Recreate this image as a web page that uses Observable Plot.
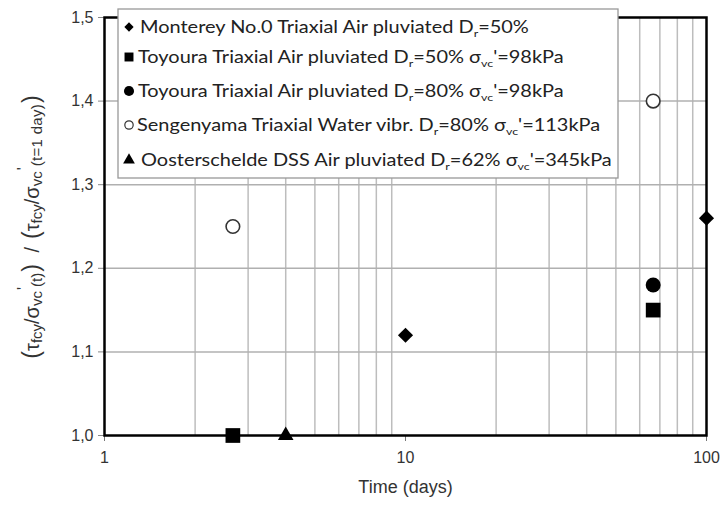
<!DOCTYPE html>
<html>
<head>
<meta charset="utf-8">
<script src="https://cdn.jsdelivr.net/npm/d3@7"></script>
<script src="https://cdn.jsdelivr.net/npm/@observablehq/plot@0.6"></script>
<style>
  html, body { margin: 0; padding: 0; background: white; }
  #chart { position: relative; width: 721px; height: 507px; }
</style>
</head>
<body>
<div id="chart"></div>
<script>
// ---- data ----
const seriesNames = [
  "Monterey No.0 Triaxial Air pluviated D_{r}=50%",
  "Toyoura Triaxial Air pluviated D_{r}=50% σ_{vc}'=98kPa",
  "Toyoura Triaxial Air pluviated D_{r}=80% σ_{vc}'=98kPa",
  "Sengenyama Triaxial Water vibr. D_{r}=80% σ_{vc}'=113kPa",
  "Oosterschelde DSS Air pluviated D_{r}=62% σ_{vc}'=345kPa"
];
const montereyT = [10, 100];
const montereyR = [1.12, 1.26];
const toyoura50T = [2.67, 66.5];
const toyoura50R = [1.00, 1.15];
const toyoura80T = [66.5];
const toyoura80R = [1.18];
const sengenyamaT = [2.67, 66.5];
const sengenyamaR = [1.25, 1.40];
const oosterT = [4];
const oosterR = [1.00];

const xTicks = [1, 10, 100];
const xGrid = [2,3,4,5,6,7,8,9,20,30,40,50,60,70,80,90];
const yTicks = [1.0, 1.1, 1.2, 1.3, 1.4, 1.5];
const yGrid = [1.1, 1.2, 1.3, 1.4];
const xLabel = "Time (days)";

const pts = (T, R) => T.map((t, i) => ({t, r: R[i]}));

const chart = Plot.plot({
  width: 721,
  height: 507,
  marginLeft: 104,
  marginRight: 15,
  marginTop: 17,
  marginBottom: 72,
  style: {fontFamily: "'Liberation Sans', Arial, sans-serif", fontSize: "16px", background: "white", color: "#333"},
  x: {type: "log", domain: [1, 100]},
  y: {domain: [1.0, 1.5]},
  marks: [
    Plot.ruleX(xGrid, {stroke: "#bdbdbd", strokeWidth: 1.5}),
    Plot.ruleY(yGrid, {stroke: "#b0b0b0", strokeWidth: 1.5}),
    Plot.axisX({ticks: xTicks, tickFormat: d => String(d), tickSize: 6, tickPadding: 10, stroke: "#777", fill: "#333", fontSize: 16, label: null}),
    Plot.axisY({ticks: yTicks, tickFormat: d => d.toFixed(1).replace(".", ","), tickSize: 6, tickPadding: 5, stroke: "#888", fill: "#333", fontSize: 16, label: null}),
    Plot.text([xLabel], {text: d => d, frameAnchor: "bottom", dy: 57, fontSize: 18, fill: "#333"}),
    Plot.frame({stroke: "black", strokeWidth: 2.5}),
    Plot.dot(pts(montereyT, montereyR), {x: "t", y: "r", symbol: "diamond2", r: 6.8, fill: "black"}),
    Plot.dot(pts(toyoura50T, toyoura50R), {x: "t", y: "r", symbol: "square", r: 8.3, fill: "black"}),
    Plot.dot(pts(toyoura80T, toyoura80R), {x: "t", y: "r", symbol: "circle", r: 7.5, fill: "black"}),
    Plot.dot(pts(sengenyamaT, sengenyamaR), {x: "t", y: "r", symbol: "circle", r: 6.8, fill: "white", stroke: "#333", strokeWidth: 1.6}),
    Plot.dot(pts(oosterT, oosterR), {x: "t", y: "r", symbol: "triangle", r: 5.8, fill: "black"})
  ]
});
document.getElementById("chart").appendChild(chart);

const svg = d3.select(chart);

// ---- legend ----
const LEG_FS = 16.5;
const lg = svg.append("g").attr("font-family", "Lato, 'Open Sans', sans-serif").attr("fill", "#222");
lg.append("rect").attr("x", 118).attr("y", 9).attr("width", 500).attr("height", 169)
  .attr("fill", "white").attr("stroke", "#999").attr("stroke-width", 1.3);
const rowY = [33, 63, 97, 131, 166];
const rowX = [140, 138, 138, 137, 141];
const symbols = [d3.symbolDiamond2, d3.symbolSquare, d3.symbolCircle, d3.symbolCircle, d3.symbolTriangle];
const symSize = [55, 80, 80, 55, 60];
function addRich(textSel, s, fs) {
  const parts = s.split(/(_\{[^}]*\})/).filter(p => p);
  let cur = 0;
  parts.forEach(p => {
    const isSub = p.startsWith("_{");
    const target = isSub ? 4 : 0;
    textSel.append("tspan")
      .attr("dy", target - cur)
      .attr("font-size", isSub ? fs * 0.62 : fs)
      .text(isSub ? p.slice(2, -1) : p);
    cur = target;
  });
}
seriesNames.forEach((name, i) => {
  const g = lg.append("g");
  const sy = rowY[i] - 6;
  g.append("path").attr("transform", `translate(129,${sy})`)
    .attr("d", d3.symbol(symbols[i], symSize[i])())
    .attr("fill", i === 3 ? "white" : "black")
    .attr("stroke", i === 3 ? "#333" : "none").attr("stroke-width", 1.2);
  const t = g.append("text")
    .attr("transform", `translate(${rowX[i]},${rowY[i]}) scale(1.21,1)`)
    .attr("text-anchor", "start").attr("font-size", LEG_FS);
  addRich(t, name, LEG_FS);
});

// ---- y axis title ----
const yl = svg.append("text")
  .attr("transform", "translate(39,228) rotate(-90)")
  .attr("text-anchor", "middle")
  .attr("font-family", "'Liberation Sans', Arial, sans-serif")
  .attr("font-size", 20).attr("fill", "#333");
const yParts = [
  ["(", "big"], ["τ", ""], ["fcy", "sub"], ["/σ", ""], ["vc", "sub"], ["'", "sup"], ["(t)", "sub"], [")", "big"],
  [" /", "gap"],
  ["(", "big2"], ["τ", ""], ["fcy", "sub"], ["/σ", ""], ["vc", "sub"], ["'", "sup"], ["(t=1 day)", "subw"], [")", "big"]
];
let cur = 0;
yParts.forEach(([s, k]) => {
  let target = 0, size = 20, dx = 0, ls = 0;
  if (k === "sub") { target = 3; size = 15; }
  else if (k === "subw") { target = 3; size = 15; ls = 0.3; dx = 1; }
  else if (k === "sup") { target = -10; size = 16; dx = 1; }
  else if (k === "big") { size = 23; dx = 1; }
  else if (k === "big2") { size = 23; dx = 8; }
  else if (k === "gap") { dx = 6; }
  const ts = yl.append("tspan").attr("dy", target - cur).attr("font-size", size).text(s);
  if (dx) ts.attr("dx", dx);
  if (ls) ts.attr("letter-spacing", ls);
  cur = target;
});
</script>
</body>
</html>
